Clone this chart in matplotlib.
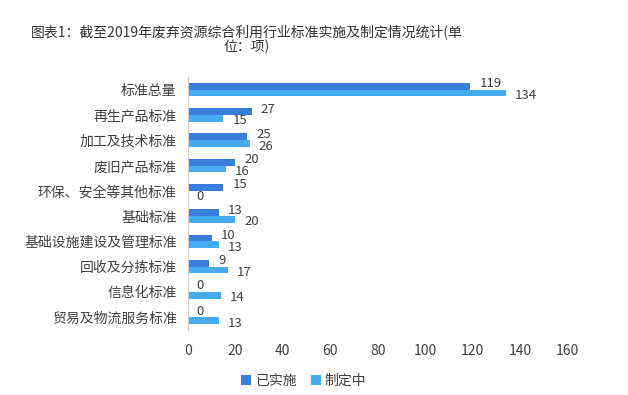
import matplotlib
matplotlib.use("Agg")
import matplotlib.pyplot as plt
import numpy as np

plt.rcParams['font.family'] = ['Noto Sans CJK SC', 'DejaVu Sans']

categories = ['标准总量', '再生产品标准', '加工及技术标准', '废旧产品标准', '环保、安全等其他标准',
              '基础标准', '基础设施建设及管理标准', '回收及分拣标准', '信息化标准', '贸易及物流服务标准']
implemented = [119, 27, 25, 20, 15, 13, 10, 9, 0, 0]
in_progress = [134, 15, 26, 16, 0, 20, 13, 17, 14, 13]
xticks = [0, 20, 40, 60, 80, 100, 120, 140, 160]

dark = '#3A7DDB'
light = '#45ABEE'
txt = '#404040'

fig = plt.figure(figsize=(6.28, 3.95), dpi=100)
ax = fig.add_axes([0.299, 0.165, 0.605, 0.64])

y = np.arange(len(categories))
h = 0.27
b1 = ax.barh(y - h / 2, implemented, height=h, color=dark, label='已实施')
b2 = ax.barh(y + h / 2, in_progress, height=h, color=light, label='制定中')

# dark labels nudged up, light labels nudged down, as in the source
for bars, vals, dy in ((b1, implemented, 1.8), (b2, in_progress, -1.8)):
    for bar, v in zip(bars, vals):
        ax.annotate(str(v), (v, bar.get_y() + bar.get_height() / 2),
                    xytext=(6.5, dy), textcoords='offset points',
                    ha='left', va='center', fontsize=9.5, color=txt)

ax.set_ylim(len(categories) - 0.5, -0.5)
ax.set_xlim(0, 160)
ax.set_xticks(xticks)
ax.set_yticks(y)
ax.set_yticklabels(categories)
ax.tick_params(axis='both', length=0, labelsize=10, colors=txt)
ax.tick_params(axis='x', pad=10)
ax.tick_params(axis='y', pad=8)

for s in ['top', 'right', 'bottom']:
    ax.spines[s].set_visible(False)
ax.spines['left'].set_color('#d0d0d0')

fig.text(0.393, 0.90, '图表1：截至2019年废弃资源综合利用行业标准实施及制定情况统计(单\n位：项)',
         ha='center', va='center', fontsize=10, color='#333333', linespacing=1.0)

fig.legend(handles=[b1, b2], loc='center', bbox_to_anchor=(0.484, 0.035), ncol=2,
           frameon=False, fontsize=10, handlelength=0.7, handleheight=0.7,
           handletextpad=0.3, columnspacing=1.0, labelcolor=txt)

fig.savefig('out.png', dpi=100)
